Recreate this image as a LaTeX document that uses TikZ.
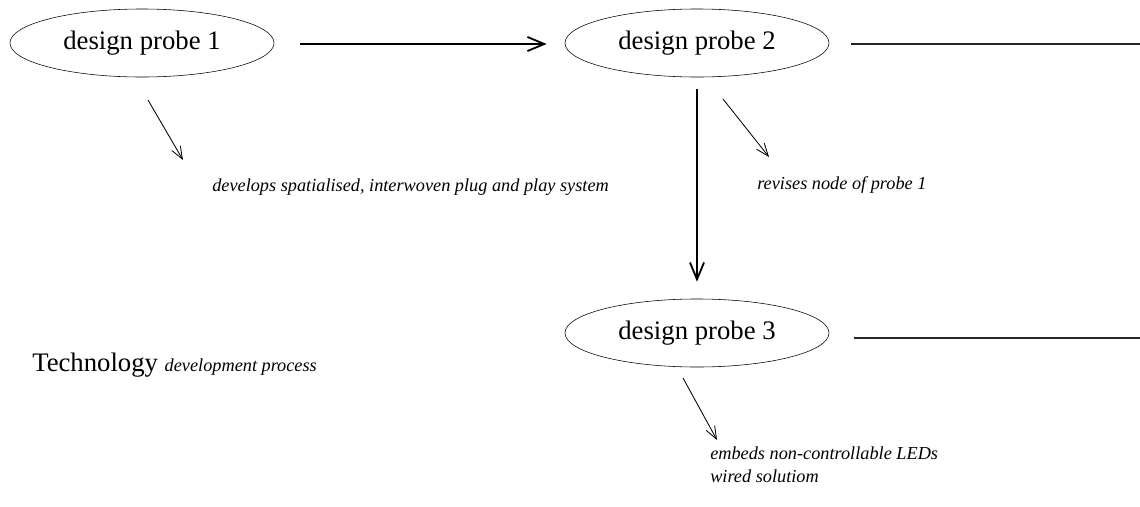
\documentclass[tikz,border=0pt]{standalone}
\usepackage{fontspec}
\setmainfont{Liberation Serif}
\usetikzlibrary{shapes.geometric, arrows.meta, calc}

\tikzset{
    probe/.style={draw, ellipse, thin, inner sep=0pt, minimum width=6.6cm, minimum height=1.7cm,
        font=\fontsize{19}{22}\selectfont},
    flow/.style={line width=1.4pt, -{Straight Barb[length=12pt, width=10pt, line width=1.3pt]}},
    track/.style={line width=1.4pt, black!85},
    note/.style={-{Straight Barb[length=9pt, width=7pt]}, line width=0.6pt},
    remark/.style={anchor=mid west, inner sep=0pt, font=\fontsize{13}{16}\selectfont\itshape},
}

\begin{document}
\begin{tikzpicture}[x=0.025cm, y=-0.025cm]
    \useasboundingbox (0, 0) rectangle (1140, 507);

    % The three design probes
    \node[probe] (P1) at (142, 43) {design probe 1};
    \node[probe] (P2) at (697, 43) {design probe 2};
    \node[probe] (P3) at (697, 333) {design probe 3};

    % Loose ends running off to the right
    \coordinate (P2end) at (1140, 44);
    \coordinate (P3end) at (1140, 338);

    % Main flow between the probes
    \draw[flow] ($(P1.east) + (26, 1)$) -- ($(P2.west) + (-18, 1)$);
    \draw[flow] ($(P2.south) + (0, 12)$) -- ($(P3.north) + (0, -17)$);
    \draw[track] ($(P2.east) + (22, 1)$) -- (P2end);
    \draw[track] ($(P3.east) + (25, 5)$) -- (P3end);

    % Annotations
    \node[remark] (N1) at (212, 188) {develops spatialised, interwoven plug and play system};
    \node[remark] (N2) at (757, 186) {revises node of probe 1};
    \node[remark, anchor=north west, align=left] (N3) at (710, 447)
        {embeds non-controllable LEDs\\wired solutiom};

    \coordinate (A1) at (148, 100);
    \coordinate (A2) at (723, 99);
    \coordinate (A3) at (683, 378);
    \draw[note] (A1) -- (183, 160);
    \draw[note] (A2) -- (769, 157);
    \draw[note] (A3) -- (717, 440);

    % Title
    \node[anchor=mid west, inner sep=0pt] (T) at (32, 368)
        {\fontsize{19}{22}\selectfont Technology \fontsize{13}{16}\selectfont\itshape development process};
\end{tikzpicture}
\end{document}
